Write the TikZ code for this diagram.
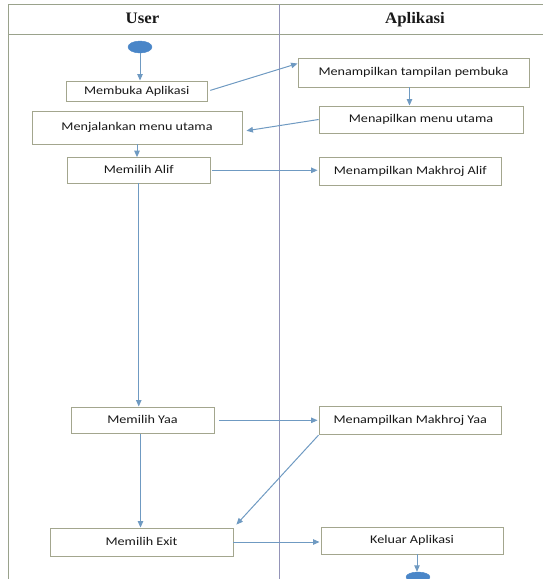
\documentclass[tikz,border=0pt]{standalone}
\usepackage{fontspec}
\setmainfont[FakeStretch=1.2]{Carlito}
\newfontfamily\headfont[FakeStretch=1.05]{Liberation Serif}
\usetikzlibrary{shapes.geometric,arrows.meta,calc}
\definecolor{boxline}{HTML}{A3A68E}
\definecolor{frameline}{HTML}{9AA28C}
\definecolor{arrowc}{HTML}{6F9AC2}
\definecolor{dotc}{HTML}{4A86C8}
\tikzset{
  actbox/.style={draw=boxline, line width=0.9pt, rectangle, inner sep=0pt, align=center, font=\fontsize{11.8}{13}\selectfont, text=black!90, text height=8.5pt, text depth=2.5pt},
  flow/.style={draw=arrowc, line width=1pt, -{Triangle[length=6.5pt,width=5.5pt]}},
  dot/.style={ellipse, fill=dotc, draw=dotc, inner sep=0pt},
  lane/.style={draw=frameline, line width=1pt},
  head/.style={font=\headfont\bfseries\fontsize{16}{18}\selectfont, text=black!90, text height=11pt, text depth=3.5pt, inner sep=0pt}
}
\begin{document}
\begin{tikzpicture}[x=1pt,y=-1pt]
\useasboundingbox (0,0) rectangle (543,579);
% frame
\coordinate (tl) at (8,4);
\coordinate (tr) at (543,4);
\coordinate (hl) at (8,34.6);
\coordinate (hr) at (543,34.6);
\coordinate (bl) at (8,579);
\coordinate (dt) at (279,4);
\coordinate (db) at (279,579);
\draw[lane] (bl) -- (tl) -- (tr);
\draw[lane] (hl) -- (hr);
\draw[lane, draw=gray!80!blue!70] (dt) -- (db);
\node[head] (huser) at (142.5,20) {User};
\node[head] (happ) at (415,20) {Aplikasi};
% nodes
\node[dot, minimum width=24pt, minimum height=12pt] (start) at (140,47) {};
\node[actbox, minimum width=140.5pt, minimum height=20.5pt] (membuka) at (136.75,91.25) {Membuka Aplikasi};
\node[actbox, minimum width=231pt, minimum height=29pt] (pembuka) at (413.5,72.5) {Menampilkan tampilan pembuka};
\node[actbox, minimum width=204pt, minimum height=27pt] (menu) at (421,119.5) {Menapilkan menu utama};
\node[actbox, minimum width=210pt, minimum height=32.5pt] (jalan) at (137,127.75) {Menjalankan menu utama};
\node[actbox, minimum width=142.5pt, minimum height=25.4pt] (alif) at (138.75,170.3) {Memilih Alif};
\node[actbox, minimum width=182.5pt, minimum height=27.4pt] (makalif) at (410.25,171.3) {Menampilkan Makhroj Alif};
\node[actbox, minimum width=143pt, minimum height=26.7pt] (yaa) at (142.5,420.3) {Memilih Yaa};
\node[actbox, minimum width=182.5pt, minimum height=28.7pt] (makyaa) at (410.25,420.3) {Menampilkan Makhroj Yaa};
\node[actbox, minimum width=183pt, minimum height=28pt] (exit) at (141.5,542) {Memilih Exit};
\node[actbox, minimum width=182pt, minimum height=27pt] (keluar) at (412,540.5) {Keluar Aplikasi};
\node[dot, minimum width=24pt, minimum height=10pt] (end) at (418,577) {};
% connectors
\draw[flow] (start.south) -- (start.south |- membuka.north);
\draw[flow, shorten <=3pt] (membuka.east) -- ($(pembuka.north west)!0.2!(pembuka.south west)$);
\draw[flow] ([xshift=-4pt]pembuka.south) -- ([xshift=-4pt]pembuka.south |- menu.north);
\draw[flow] (menu.west) -- ([xshift=4pt,yshift=-3pt]jalan.east);
\draw[flow] (jalan.south) -- (jalan.south |- alif.north);
\draw[flow, shorten <=2pt, shorten >=1pt] (alif.east) -- (alif.east -| makalif.west);
\draw[flow] (alif.south) -- (alif.south |- yaa.north);
\draw[flow, shorten <=5pt, shorten >=1pt] (yaa.east) -- (makyaa.west);
\draw[flow] ([xshift=-2pt]yaa.south) -- ([xshift=-2pt]yaa.south |- exit.north);
\draw[flow] (makyaa.south west) -- ([xshift=3pt,yshift=3pt]exit.north east);
\draw[flow, shorten >=1pt] (exit.east) -- (exit.east -| keluar.west);
\draw[flow] ([xshift=5pt]keluar.south) -- ([xshift=5pt]keluar.south |- end.north);
\end{tikzpicture}
\end{document}
